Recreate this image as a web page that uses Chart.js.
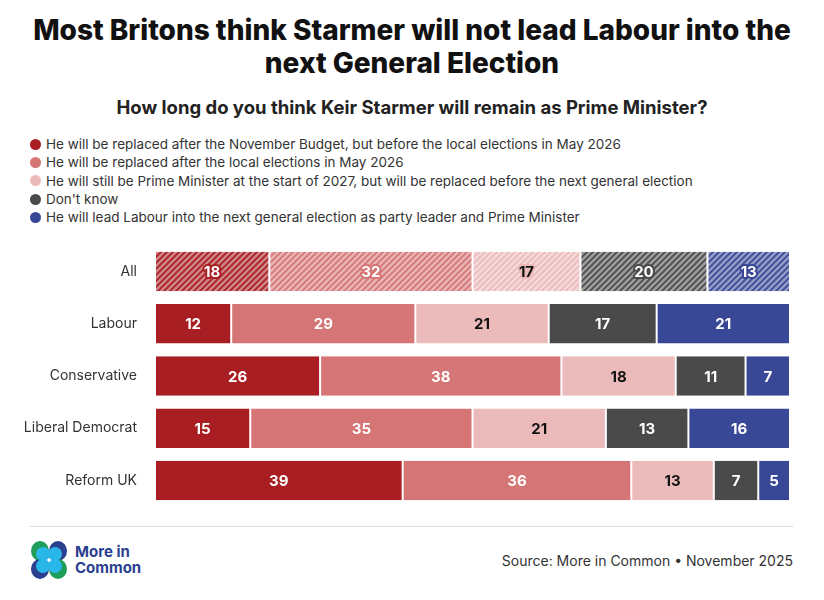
<!DOCTYPE html>
<html><head><meta charset="utf-8">
<script src="https://cdn.jsdelivr.net/npm/chart.js@4/dist/chart.umd.min.js"></script>
<style>
body{margin:0;width:824px;height:600px;background:#fff;font-family:Inter,"Noto Sans",sans-serif;position:relative;overflow:hidden}
h1{position:absolute;top:14px;left:0;width:824px;margin:0;text-align:center;font-size:28px;line-height:33px;font-weight:800;color:#111}
h2{position:absolute;top:96px;left:0;width:824px;margin:0;text-align:center;font-size:18.5px;font-weight:700;color:#222}
#legend{position:absolute;top:135px;left:30px;font-size:13.5px;color:#333;line-height:18.3px}
#legend div{display:flex;align-items:center}
#legend span{display:inline-block;width:11px;height:11px;border-radius:50%;margin-right:5px}
#c{position:absolute;left:0;top:227px}
#rule{position:absolute;left:30px;top:526px;width:763px;height:1px;background:#ddd}
#src{position:absolute;right:31px;top:552px;font-size:14px;color:#333}
#logo{position:absolute;left:29px;top:540px;display:flex;align-items:center}
#logo div{font-weight:700;color:#2b3f8f;font-size:15px;line-height:16px;margin-left:6px}
</style></head><body>
<h1>Most Britons think Starmer will not lead Labour into the<br>next General Election</h1>
<h2>How long do you think Keir Starmer will remain as Prime Minister?</h2>
<div id="legend"></div>
<canvas id="c" width="824" height="298" style="width:824px;height:298px"></canvas>
<div id="rule"></div>
<div id="logo"><svg width="40" height="40" viewBox="0 0 40 40">
<ellipse cx="11" cy="11" rx="9" ry="10" fill="#1f9e5a"/><ellipse cx="29" cy="11" rx="9" ry="10" fill="#2b3f8f"/>
<ellipse cx="11" cy="29" rx="9" ry="10" fill="#2b3f8f"/><ellipse cx="29" cy="29" rx="9" ry="10" fill="#1f9e5a"/>
<ellipse cx="14" cy="14" rx="7" ry="7" fill="#29b6e8"/><ellipse cx="26" cy="14" rx="7" ry="7" fill="#29b6e8"/>
<ellipse cx="14" cy="26" rx="7" ry="7" fill="#29b6e8"/><ellipse cx="26" cy="26" rx="7" ry="7" fill="#29b6e8"/></svg>
<div>More in<br>Common</div></div>
<div id="src">Source: More in Common • November 2025</div>
<script>
const categories=["All","Labour","Conservative","Liberal Democrat","Reform UK"];
const seriesNames=["He will be replaced after the November Budget, but before the local elections in May 2026","He will be replaced after the local elections in May 2026","He will still be Prime Minister at the start of 2027, but will be replaced before the next general election","Don't know","He will lead Labour into the next general election as party leader and Prime Minister"];
const beforeLocal=[18,12,26,15,39];
const afterLocal=[32,29,38,35,36];
const still2027=[17,21,18,21,13];
const dontKnow=[20,17,11,13,7];
const leadIntoGE=[13,21,7,16,5];
const colors=["#a81e22","#d57575","#ebbaba","#4a4a4a","#394896"];
const textColors=["#fff","#fff","#111","#fff","#fff"];
const values=[beforeLocal,afterLocal,still2027,dontKnow,leadIntoGE];
const lg=document.getElementById('legend');
seriesNames.forEach((n,i)=>{lg.innerHTML+=`<div><span style="background:${colors[i]}"></span>${n}</div>`});
function hatch(col){const p=document.createElement('canvas');p.width=p.height=6;const g=p.getContext('2d');
g.fillStyle=col;g.globalAlpha=0.55;g.fillRect(0,0,6,6);g.globalAlpha=1;g.strokeStyle=col;g.lineWidth=1.6;
g.beginPath();g.moveTo(0,6);g.lineTo(6,0);g.moveTo(-3,3);g.lineTo(3,-3);g.moveTo(3,9);g.lineTo(9,3);g.stroke();
return document.getElementById('c').getContext('2d').createPattern(p,'repeat');}
const datasets=values.map((v,i)=>({label:seriesNames[i],data:v,
 backgroundColor:v.map((x,j)=>j===0?hatch(colors[i]):colors[i]),borderColor:'#fff',borderWidth:{left:1,right:1},borderSkipped:false,
 barPercentage:0.76,categoryPercentage:1}));
const lbl={id:'lbl',afterDatasetsDraw(ch){const c=ch.ctx;c.save();c.font='700 15px Inter, "Noto Sans", sans-serif';c.textAlign='center';c.textBaseline='middle';c.lineJoin='round';
 ch.data.datasets.forEach((d,i)=>{ch.getDatasetMeta(i).data.forEach((b,j)=>{const x=(b.x+b.base)/2;const t=String(d.data[j]);
 c.lineWidth=4;c.strokeStyle=colors[i];c.strokeText(t,x,b.y+1);c.fillStyle=textColors[i];c.fillText(t,x,b.y+1);});});c.restore();}};
new Chart(document.getElementById('c'),{type:'bar',data:{labels:categories,datasets},plugins:[lbl],
 options:{indexAxis:'y',responsive:false,animation:false,devicePixelRatio:1,layout:{padding:{right:34,top:0,bottom:0,left:0}},
 plugins:{legend:{display:false},tooltip:{enabled:false}},
 scales:{x:{stacked:true,min:0,max:100,display:false},
 y:{stacked:true,grid:{display:false},border:{display:false},ticks:{color:'#333',font:{size:14,family:'Inter, "Noto Sans", sans-serif'},padding:10},afterFit(s){s.width=155;}}}}});
</script></body></html>
